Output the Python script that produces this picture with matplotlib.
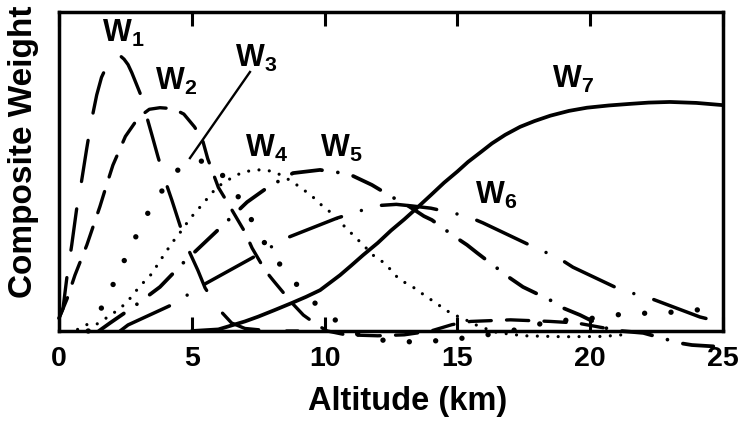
import numpy as np
import matplotlib
matplotlib.use('Agg')
import matplotlib.pyplot as plt

plt.rcParams['font.family'] = ['Liberation Sans', 'DejaVu Sans']
plt.rcParams['font.weight'] = 'bold'
plt.rcParams['mathtext.fontset'] = 'custom'
plt.rcParams['mathtext.bf'] = 'Liberation Sans:bold'
plt.rcParams['mathtext.rm'] = 'Liberation Sans:bold'
plt.rcParams['lines.scale_dashes'] = False

# composite weighting functions, altitude (km) vs relative weight
w1_x = [0.0, 0.15, 0.3, 0.48, 0.66, 0.85, 1.04, 1.2, 1.42, 1.6, 1.85, 2.0, 2.17, 2.3, 2.45, 2.6, 2.74,
        3.05, 3.5, 3.73, 3.99, 4.25, 4.56, 4.9, 5.23, 5.5, 6.0, 6.5, 7.0, 8.0, 9.0]
w1_y = [0.04, 0.07, 0.17, 0.27, 0.38, 0.47, 0.57, 0.65, 0.74, 0.795, 0.84, 0.857, 0.865, 0.863, 0.852, 0.835, 0.81,
        0.746, 0.614, 0.545, 0.473, 0.41, 0.33, 0.25, 0.19, 0.135, 0.07, 0.025, 0.008, 0.0, 0.0]

w2_x = [0.0, 0.3, 0.6, 1.05, 1.54, 1.8, 2.03, 2.5, 3.0, 3.4, 3.8, 4.3, 4.7, 5.1, 5.4,
        5.6, 6.0, 6.4, 7.0, 7.27, 7.76, 8.1, 8.77, 9.2, 9.7, 10.1, 10.8, 12.0, 13.0,
        14.0, 14.8, 15.5, 17.0, 18.5, 19.5, 20.5, 21.0]
w2_y = [0.04, 0.10, 0.175, 0.27, 0.39, 0.46, 0.52, 0.61, 0.67, 0.695, 0.70, 0.697, 0.68, 0.64, 0.60,
        0.54, 0.45, 0.395, 0.31, 0.26, 0.19, 0.155, 0.088, 0.05, 0.02, 0.0, -0.012, -0.015, -0.012,
        0.0, 0.02, 0.03, 0.035, 0.03, 0.025, 0.01, 0.0]

w3_x = [1.1, 1.81, 2.26, 2.71, 3.2, 3.77, 4.33, 4.8, 5.27, 5.8, 6.3, 6.78, 7.34, 7.87,
        8.4, 9.11, 9.94, 10.8, 11.5, 12.3, 13.5, 14.3, 15.5, 17.0, 18.5, 20.1, 21.4,
        22.4, 23.3, 24.25, 25.0]
w3_y = [0.0, 0.103, 0.188, 0.263, 0.35, 0.426, 0.495, 0.525, 0.535, 0.52, 0.475, 0.417, 0.335, 0.257,
        0.20, 0.13, 0.063, 0.01, -0.02, -0.03, -0.035, -0.03, -0.02, 0.0, 0.03, 0.04, 0.055,
        0.056, 0.06, 0.068, 0.06]

w4_x = [0.7, 1.05, 1.43, 1.84, 2.22, 2.56, 2.86, 3.2, 3.5, 3.77, 4.03, 4.25, 4.52, 4.82,
        5.08, 5.38, 5.69, 5.95, 6.25, 6.55, 6.93, 7.38, 7.79, 8.21, 8.81, 9.11, 9.49,
        9.79, 10.13, 10.58, 10.88, 11.18, 11.45, 11.82, 12.2, 12.54, 12.76, 13.06, 13.44,
        13.74, 14.08, 14.46, 14.8, 15.17, 15.8, 16.5, 17.5, 19.0, 20.5, 21.2]
w4_y = [0.005, 0.02, 0.022, 0.044, 0.066, 0.09, 0.122, 0.154, 0.18, 0.216, 0.248, 0.276, 0.304, 0.339,
        0.367, 0.395, 0.426, 0.451, 0.467, 0.483, 0.498, 0.505, 0.505, 0.495, 0.467, 0.448, 0.426,
        0.401, 0.379, 0.342, 0.317, 0.292, 0.27, 0.238, 0.216, 0.188, 0.166, 0.15, 0.132,
        0.113, 0.094, 0.072, 0.053, 0.041, 0.015, -0.005, -0.015, -0.018, -0.017, -0.012]

w5_x = [1.5, 1.92, 2.79, 3.8, 4.67, 5.9, 7.08, 7.87, 8.81, 9.83, 10.35, 10.84, 11.78,
        12.16, 12.54, 13.1, 13.74, 14.04, 14.91, 15.36, 15.74, 16.98, 17.47, 18.49, 18.98,
        19.62, 20.75, 22.0, 23.38, 23.83, 25.0]
w5_y = [0.0, 0.025, 0.075, 0.138, 0.213, 0.31, 0.404, 0.451, 0.495, 0.505, 0.498, 0.495, 0.458,
        0.439, 0.42, 0.395, 0.36, 0.348, 0.295, 0.27, 0.245, 0.166, 0.138, 0.097, 0.072,
        0.05, 0.003, -0.006, -0.038, -0.044, -0.05]

w6_x = [2.3, 2.6, 4.48, 4.93, 5.42, 7.27, 8.58, 10.47, 11.97, 12.7, 13.29, 14.0, 14.65,
        15.36, 15.96, 18.11, 18.75, 19.35, 21.0, 21.57, 22.25, 24.13, 24.62, 25.0]
w6_y = [0.0, 0.019, 0.091, 0.119, 0.144, 0.229, 0.292, 0.354, 0.393, 0.397, 0.392, 0.385, 0.373,
        0.36, 0.339, 0.254, 0.232, 0.2, 0.135, 0.119, 0.103, 0.044, 0.034, 0.03]

w7_x = [5.0, 6.0, 6.6, 7.0, 7.5, 8.1, 8.77, 9.3, 9.83, 10.58, 11.0, 11.45, 12.0, 12.5, 13.0,
        13.48, 14.0, 14.5, 15.0, 15.4, 15.9, 16.3, 16.8, 17.36, 17.9, 18.5, 19.2, 19.88,
        20.7, 21.5, 22.2, 23.0, 24.0, 25.0]
w7_y = [0.0, 0.005, 0.02, 0.03, 0.045, 0.065, 0.088, 0.107, 0.128, 0.175, 0.205, 0.238, 0.276,
        0.315, 0.35, 0.386, 0.426, 0.465, 0.50, 0.53, 0.562, 0.588, 0.615, 0.64, 0.658, 0.675,
        0.69, 0.70, 0.707, 0.712, 0.716, 0.718, 0.715, 0.708]

labels = ['1', '2', '3', '4', '5', '6', '7']
label_x = [1.62, 3.61, 6.63, 7.0, 9.83, 15.66, 18.56]
label_y = [0.906, 0.755, 0.828, 0.545, 0.545, 0.40, 0.762]

fig = plt.figure(figsize=(7.41, 4.23), dpi=100)
ax = fig.add_axes([59 / 741, 92 / 423, 664 / 741, 319 / 423])

kw = dict(color='black', clip_on=False, solid_capstyle='round', dash_capstyle='round',
          solid_joinstyle='round', dash_joinstyle='round')
ax.plot(w1_x, w1_y, lw=2.4, dashes=(30, 20), **kw)
ax.plot(w2_x, w2_y, lw=2.4, dashes=(16, 11), **kw)
ax.plot(w3_x, w3_y, lw=3.9, dashes=(0.01, 19), **kw)
ax.plot(w4_x, w4_y, lw=2.3, dashes=(0.01, 7.5), **kw)
ax.plot(w5_x, w5_y, lw=2.7, dashes=(22, 11.5, 0.01, 11.5), **kw)
ax.plot(w6_x, w6_y, lw=2.5, dashes=(40, 15, 0.01, 15), **kw)
ax.plot(w7_x, w7_y, lw=2.7, **kw)

# leader line for the W3 label
ax.plot([7.19, 4.93], [0.812, 0.542], color='black', lw=1.7)

for s, x, y in zip(labels, label_x, label_y):
    ax.text(x, y, r'$\mathbf{W_{%s}}$' % s, fontsize=22, ha='left', va='baseline')

ax.set_xlim(0, 25)
ax.set_ylim(0, 1)
ax.set_xticks([0, 5, 10, 15, 20, 25])
ax.set_yticks([])
ax.tick_params(axis='x', direction='in', length=10, width=2.2, top=True, bottom=True,
               labelsize=20.5, pad=11)
for lbl in ax.get_xticklabels():
    lbl.set_fontweight('bold')
for sp in ax.spines.values():
    sp.set_linewidth(2.5)

fig.text(408 / 741, 1 - 410 / 423, 'Altitude (km)', fontsize=23.5, fontweight='bold',
         ha='center', va='baseline')
fig.text(24 / 741, 1 - 152 / 423, 'Composite Weight', fontsize=24, fontweight='bold',
         rotation=90, ha='center', va='center')

fig.savefig('out.png', dpi=100)
